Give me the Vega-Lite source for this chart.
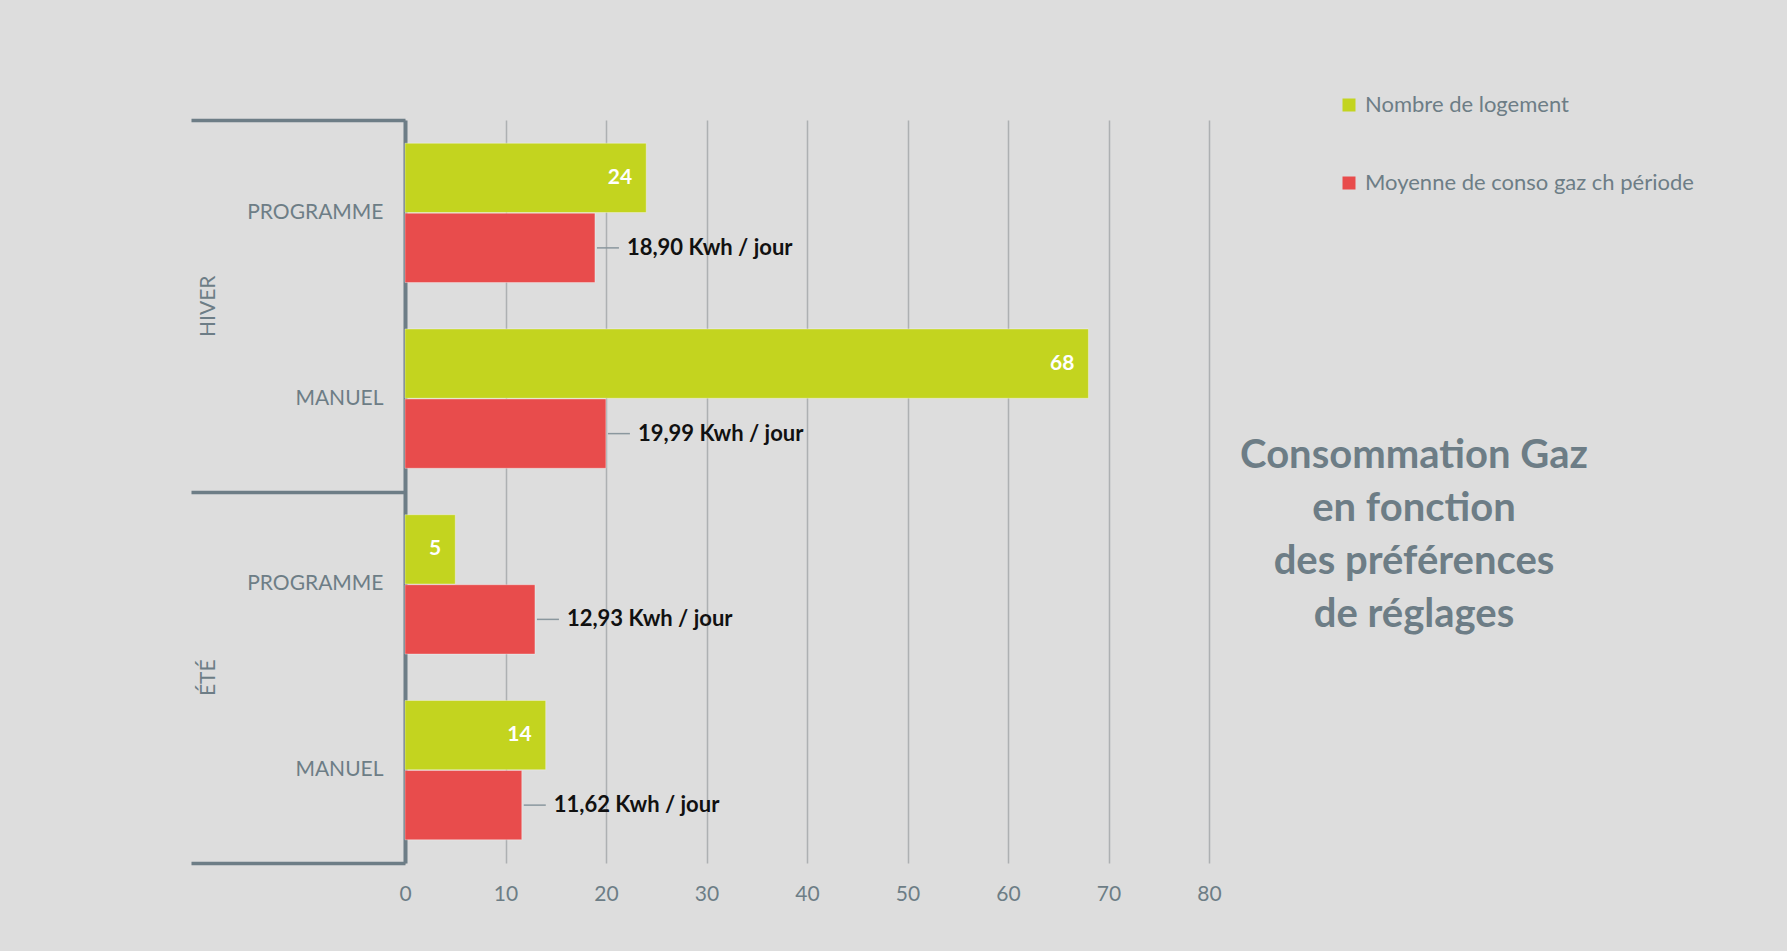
{
  "$schema": "https://vega.github.io/schema/vega-lite/v6.json",
  "width": 804,
  "height": 743,
  "autosize": {"type": "none"},
  "padding": {"left": 405, "top": 120, "right": 578, "bottom": 88},
  "background": "#dddddd",
  "config": {
    "view": {"stroke": null},
    "font": "Lato",
    "axis": {"labelFont": "Lato", "labelColor": "#6d7d86", "title": null}
  },
  "title": {
    "text": ["Consommation Gaz", "en fonction", "des préférences", "de réglages"],
    "font": "Lato",
    "fontSize": 40,
    "fontWeight": "bold",
    "color": "#6d7d86",
    "lineHeight": 53,
    "anchor": "start",
    "frame": "group",
    "align": "center",
    "baseline": "top",
    "dx": 1009,
    "dy": 545
  },
  "data": {
    "values": [
      {"saison": "HIVER", "cat": "HIVER|PROGRAMME", "serie": "Nombre de logement", "valeur": 24, "etiquette": "24"},
      {"saison": "HIVER", "cat": "HIVER|PROGRAMME", "serie": "Moyenne de conso gaz ch période", "valeur": 18.90, "etiquette": "18,90 Kwh / jour"},
      {"saison": "HIVER", "cat": "HIVER|MANUEL", "serie": "Nombre de logement", "valeur": 68, "etiquette": "68"},
      {"saison": "HIVER", "cat": "HIVER|MANUEL", "serie": "Moyenne de conso gaz ch période", "valeur": 19.99, "etiquette": "19,99 Kwh / jour"},
      {"saison": "ÉTÉ", "cat": "ÉTÉ|PROGRAMME", "serie": "Nombre de logement", "valeur": 5, "etiquette": "5"},
      {"saison": "ÉTÉ", "cat": "ÉTÉ|PROGRAMME", "serie": "Moyenne de conso gaz ch période", "valeur": 12.93, "etiquette": "12,93 Kwh / jour"},
      {"saison": "ÉTÉ", "cat": "ÉTÉ|MANUEL", "serie": "Nombre de logement", "valeur": 14, "etiquette": "14"},
      {"saison": "ÉTÉ", "cat": "ÉTÉ|MANUEL", "serie": "Moyenne de conso gaz ch période", "valeur": 11.62, "etiquette": "11,62 Kwh / jour"}
    ]
  },
  "layer": [
    {
      "layer": [
        {
          "mark": {"type": "bar", "stroke": "#ffffff", "strokeOpacity": 0.35, "strokeWidth": 1},
          "encoding": {
            "y": {
              "field": "cat", "type": "nominal",
              "sort": ["HIVER|PROGRAMME", "HIVER|MANUEL", "ÉTÉ|PROGRAMME", "ÉTÉ|MANUEL"],
              "scale": {"paddingInner": 0.25, "paddingOuter": 0.125},
              "axis": {
                "orient": "left",
                "labelExpr": "split(datum.label, '|')[1]",
                "ticks": false, "tickSize": 0,
                "labelPadding": 22, "labelFontSize": 21,
                "domain": true, "domainColor": "#6d7d86", "domainWidth": 4,
                "grid": false
              }
            },
            "yOffset": {
              "field": "serie", "type": "nominal",
              "sort": ["Nombre de logement", "Moyenne de conso gaz ch période"],
              "scale": {"paddingInner": 0.01, "paddingOuter": 0}
            },
            "x": {
              "field": "valeur", "type": "quantitative",
              "scale": {"domain": [0, 80], "nice": false},
              "axis": {
                "values": [0, 10, 20, 30, 40, 50, 60, 70, 80],
                "grid": true, "gridColor": "#adb0b2", "gridWidth": 1.5,
                "ticks": false, "domain": false, "labelFlush": false,
                "labelPadding": 20, "labelFontSize": 21
              }
            },
            "color": {
              "field": "serie", "type": "nominal",
              "scale": {"domain": ["Nombre de logement", "Moyenne de conso gaz ch période"], "range": ["#c3d41f", "#e84c4c"]},
              "legend": {
                "orient": "none", "legendX": 933, "legendY": -26,
                "title": null, "symbolType": "square", "symbolSize": 169,
                "symbolStrokeWidth": 0,
                "labelFont": "Lato", "labelFontSize": 22, "labelColor": "#6d7d86",
                "labelOffset": 5, "rowPadding": 56, "labelLimit": 500
              }
            }
          }
        },
        {
          "transform": [{"filter": "datum.serie === 'Nombre de logement'"}],
          "mark": {"type": "text", "align": "right", "baseline": "middle", "dx": -14, "color": "#ffffff", "fontWeight": "bold", "fontSize": 21, "font": "Lato"},
          "encoding": {
            "y": {
              "field": "cat", "type": "nominal",
              "sort": ["HIVER|PROGRAMME", "HIVER|MANUEL", "ÉTÉ|PROGRAMME", "ÉTÉ|MANUEL"],
              "axis": {
                "orient": "left", "bandPosition": 0, "tickOffset": -23.2, "labels": false, "domain": false, "grid": false,
                "ticks": true, "tickSize": 214, "tickWidth": 3.5, "tickColor": "#6d7d86",
                "tickOpacity": {"condition": {"test": "indexof(datum.value, 'PROGRAMME') >= 0", "value": 1}, "value": 0}
              }
            },
            "yOffset": {"field": "serie", "type": "nominal", "sort": ["Nombre de logement", "Moyenne de conso gaz ch période"]},
            "x": {"field": "valeur", "type": "quantitative"},
            "text": {"field": "etiquette", "type": "nominal"}
          }
        },
        {
          "transform": [{"filter": "datum.serie !== 'Nombre de logement'"}],
          "mark": {"type": "text", "align": "left", "baseline": "middle", "dx": 32, "color": "#111111", "fontWeight": "bold", "fontSize": 22, "font": "Lato"},
          "encoding": {
            "y": {
              "field": "cat", "type": "nominal",
              "sort": ["HIVER|PROGRAMME", "HIVER|MANUEL", "ÉTÉ|PROGRAMME", "ÉTÉ|MANUEL"],
              "axis": {
                "orient": "left", "bandPosition": 1, "tickOffset": 23.2, "labels": false, "domain": false, "grid": false,
                "ticks": true, "tickSize": 214, "tickWidth": 3.5, "tickColor": "#6d7d86",
                "tickOpacity": {"condition": {"test": "datum.value === 'ÉTÉ|MANUEL'", "value": 1}, "value": 0}
              }
            },
            "yOffset": {"field": "serie", "type": "nominal", "sort": ["Nombre de logement", "Moyenne de conso gaz ch période"]},
            "x": {"field": "valeur", "type": "quantitative"},
            "text": {"field": "etiquette", "type": "nominal"}
          }
        },
        {
          "transform": [{"filter": "datum.serie !== 'Nombre de logement'"}],
          "mark": {"type": "rule", "color": "#8a979e", "strokeWidth": 1.5, "xOffset": 2, "x2Offset": 24},
          "encoding": {
            "y": {"field": "cat", "type": "nominal", "sort": ["HIVER|PROGRAMME", "HIVER|MANUEL", "ÉTÉ|PROGRAMME", "ÉTÉ|MANUEL"], "axis": null},
            "yOffset": {"field": "serie", "type": "nominal", "sort": ["Nombre de logement", "Moyenne de conso gaz ch période"]},
            "x": {"field": "valeur", "type": "quantitative"},
            "x2": {"field": "valeur"}
          }
        }
      ],
      "resolve": {"axis": {"y": "independent"}}
    },
    {
      "mark": {"type": "point", "opacity": 0},
      "encoding": {
        "y": {
          "field": "saison", "type": "nominal",
          "sort": ["HIVER", "ÉTÉ"],
          "scale": {"paddingInner": 0, "paddingOuter": 0},
          "axis": {
            "orient": "left", "ticks": false, "tickSize": 0, "domain": false, "grid": false,
            "labelAngle": -90, "labelAlign": "center", "labelBaseline": "middle",
            "labelPadding": 197, "labelFontSize": 21
          }
        }
      }
    }
  ],
  "resolve": {"scale": {"y": "independent"}}
}
